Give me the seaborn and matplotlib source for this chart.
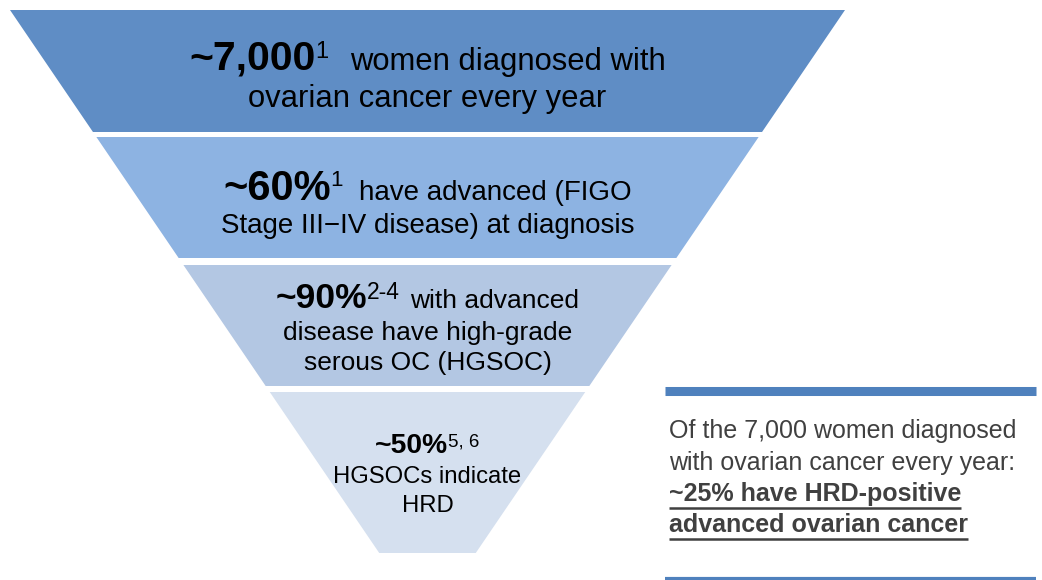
import seaborn as sns
import matplotlib.pyplot as plt

# funnel stages: bold figure, superscript reference, rest of the first line, then further lines
stage_figures = ['~7,000', '~60%', '~90%', '~50%']
stage_refs = ['1', '1', '2-4', '5, 6']
stage_first_lines = ['women diagnosed with', 'have advanced (FIGO', 'with advanced', '']
stage_more_lines = [
    ['ovarian cancer every year'],
    ['Stage III\u2212IV disease) at diagnosis'],
    ['disease have high-grade', 'serous OC (HGSOC)'],
    ['HGSOCs indicate', 'HRD'],
]
stage_colors = ['#5F8DC5', '#8DB3E2', '#B3C7E3', '#D5E0EF']

summary_lines = ['Of the 7,000 women diagnosed', 'with ovarian cancer every year:']
summary_bold = ['~25% have HRD-positive', 'advanced ovarian cancer']

# layout (pixels, y downwards)
W, H = 1042, 580
cx = 427.5
top_half = 417.5
slope = 0.68
band_tops = [10, 137, 265, 392]
band_bottoms = [132, 258, 386, 553]
first_base = [70, 200, 308, 453]
line_bases = [[107], [233], [340, 370], [483, 512]]
bold_size = [29.5, 30, 25.5, 20.3]
sup_size = [17, 16, 16.5, 13.5]
reg_size = [22.3, 20, 19, 17.2]
sup_gap = [22, 16, 10, 0]

sns.set_theme(style='white')
plt.rcParams['font.family'] = ['Liberation Sans', 'DejaVu Sans']

fig = plt.figure(figsize=(W / 100, H / 100), dpi=100)
ax = fig.add_axes([0, 0, 1, 1])
ax.set_xlim(0, W)
ax.set_ylim(H, 0)
ax.axis('off')
renderer = fig.canvas.get_renderer()


def half_width(y):
    return top_half - slope * (y - band_tops[0])


def draw_runs(runs, x_center, base):
    # runs: (text, size, weight, rise_px, gap_before_px)
    texts, widths = [], []
    for s, size, weight, rise, gap in runs:
        t = ax.text(0, base - rise, s, fontsize=size, fontweight=weight,
                    color='black', va='baseline', ha='left')
        texts.append((t, gap))
        widths.append(t.get_window_extent(renderer).width + gap)
    x = x_center - sum(widths) / 2
    for (t, gap), w in zip(texts, widths):
        t.set_x(x + gap)
        x += w


for i in range(4):
    y0, y1 = band_tops[i], band_bottoms[i]
    h0, h1 = half_width(y0), half_width(y1)
    ax.fill([cx - h0, cx + h0, cx + h1, cx - h1], [y0, y0, y1, y1],
            color=stage_colors[i], lw=0)
    rise = 0.72 * (bold_size[i] - sup_size[i]) * 100 / 72
    runs = [(stage_figures[i], bold_size[i], 'bold', 0, 0),
            (stage_refs[i], sup_size[i], 'normal', rise, 0)]
    if stage_first_lines[i]:
        runs.append((stage_first_lines[i], reg_size[i], 'normal', 0, sup_gap[i]))
    draw_runs(runs, cx, first_base[i])
    for line, base in zip(stage_more_lines[i], line_bases[i]):
        ax.text(cx, base, line, fontsize=reg_size[i], color='black',
                ha='center', va='baseline')

# summary box
rule_color = '#4F81BD'
ax.plot([665, 1036], [390.5, 390.5], color=rule_color, lw=6.5, solid_capstyle='butt')
ax.plot([665, 1036], [578.5, 578.5], color=rule_color, lw=3, solid_capstyle='butt')
gray = '#404040'
for line, base in zip(summary_lines, [438, 470]):
    ax.text(669, base, line, fontsize=18, color=gray, va='baseline')
for line, base in zip(summary_bold, [501, 532]):
    t = ax.text(669, base, line, fontsize=18, fontweight='bold', color=gray, va='baseline')
    w = t.get_window_extent(renderer).width
    ax.plot([669, 669 + w], [base + 7, base + 7], color=gray, lw=1.8, solid_capstyle='butt')

fig.savefig('out.png', dpi=100)
